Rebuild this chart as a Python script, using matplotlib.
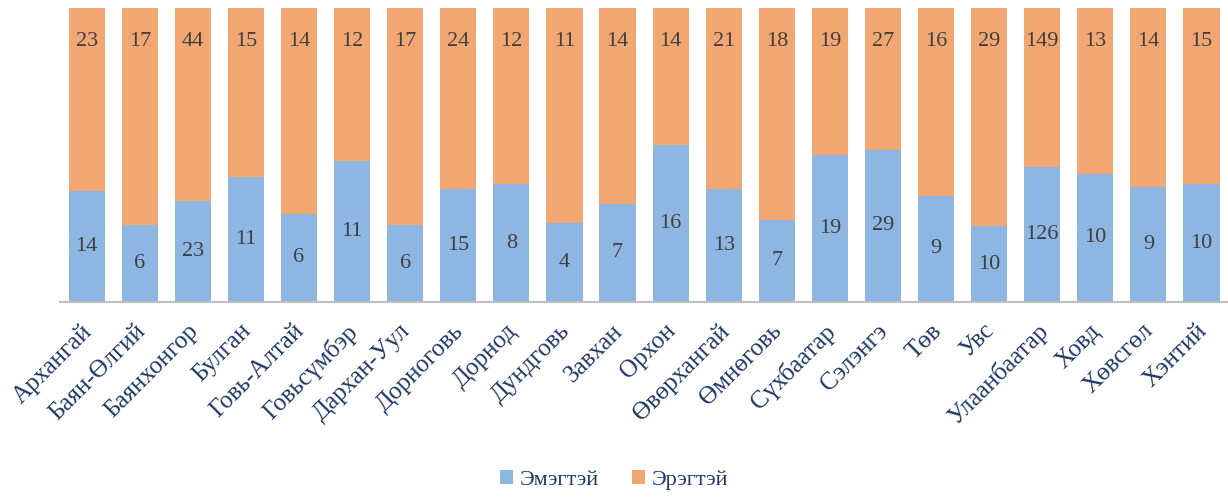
import matplotlib
matplotlib.use("Agg")
import matplotlib.pyplot as plt
import matplotlib.transforms as mtransforms
import numpy as np

plt.rcParams['font.family'] = ['Liberation Serif', 'DejaVu Serif']

categories = ["Архангай", "Баян-Өлгий", "Баянхонгор", "Булган", "Говь-Алтай", "Говьсүмбэр",
              "Дархан-Уул", "Дорноговь", "Дорнод", "Дундговь", "Завхан", "Орхон",
              "Өвөрхангай", "Өмнөговь", "Сүхбаатар", "Сэлэнгэ", "Төв", "Увс",
              "Улаанбаатар", "Ховд", "Хөвсгөл", "Хэнтий"]
female = [14, 6, 23, 11, 6, 11, 6, 15, 8, 4, 7, 16, 13, 7, 19, 29, 9, 10, 126, 10, 9, 10]
male = [23, 17, 44, 15, 14, 12, 17, 24, 12, 11, 14, 14, 21, 18, 19, 27, 16, 29, 149, 13, 14, 15]
series_names = ["Эмэгтэй", "Эрэгтэй"]

f = np.array(female, float)
m = np.array(male, float)
tot = f + m
fp = f / tot
mp = m / tot

fig = plt.figure(figsize=(12.28, 4.98), dpi=100)
ax = fig.add_axes([0.049, 0.394, 0.951, 0.59])
x = np.arange(len(categories))
blue = "#8DB6E2"
orange = "#F2A672"
w = 0.68
b1 = ax.bar(x, fp, w, color=blue, label=series_names[0])
b2 = ax.bar(x, mp, w, bottom=fp, color=orange, label=series_names[1])

txt = "#404040"
for i in range(len(x)):
    ax.text(x[i], fp[i] / 2, str(female[i]), ha='center', va='center', fontsize=16, color=txt)
    ax.text(x[i], 0.885, str(male[i]), ha='center', va='center', fontsize=16, color=txt)

ax.set_xlim(-0.5, len(x) - 0.5)
ax.set_ylim(0, 1)
ax.set_yticks([])
ax.set_xticks(x)
ax.set_xticklabels(categories, rotation=45, ha='right', rotation_mode='anchor',
                   fontsize=18, color="#1F3864")
ax.tick_params(axis='x', length=0, pad=13)
offset = mtransforms.ScaledTranslation(-6 / 100, 0, fig.dpi_scale_trans)
for lbl in ax.get_xticklabels():
    lbl.set_transform(lbl.get_transform() + offset)
for s in ['top', 'right', 'left']:
    ax.spines[s].set_visible(False)
ax.spines['bottom'].set_color('#BFBFBF')
ax.spines['bottom'].set_linewidth(1.5)

fig.legend(handles=[b1, b2], labels=series_names, loc='center', bbox_to_anchor=(0.5, 0.036),
           ncol=2, frameon=False, fontsize=16, handlelength=0.6, handleheight=0.6,
           columnspacing=1.5, handletextpad=0.3, labelcolor="#1F3864")

fig.savefig("out.png", dpi=100)
